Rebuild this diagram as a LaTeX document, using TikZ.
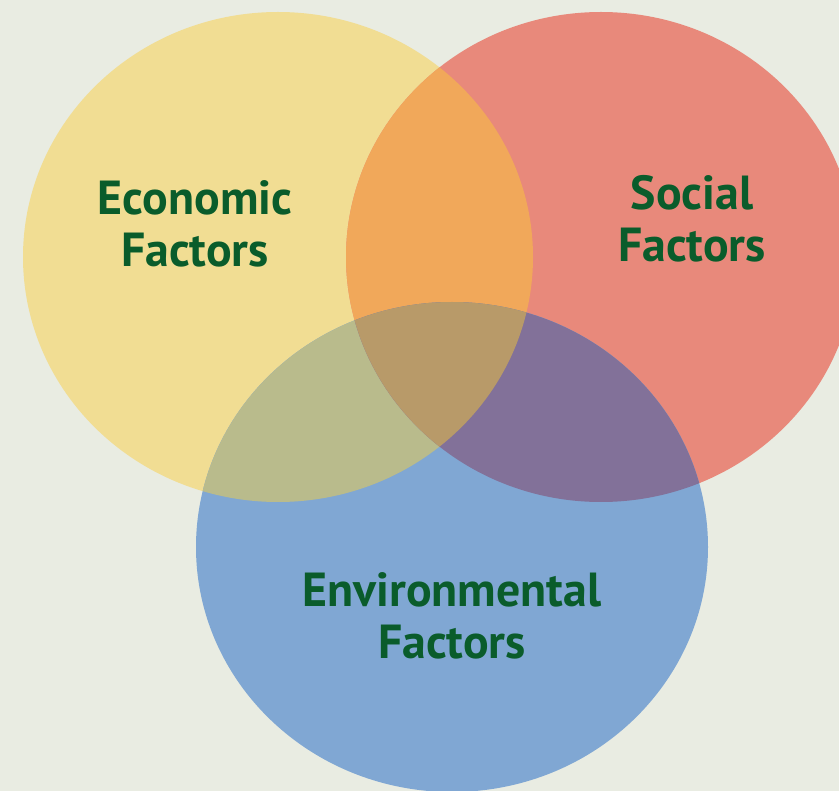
\documentclass[tikz,border=0pt]{standalone}
\usepackage{fontspec}
\setmainfont{PT Sans}
\usepackage{tikz}
\definecolor{bgcol}{HTML}{E9ECE2}
\definecolor{econcol}{HTML}{F1DD93}
\definecolor{socialcol}{HTML}{E8897B}
\definecolor{envcol}{HTML}{80A7D3}
\definecolor{econsocial}{HTML}{F1A85A}
\definecolor{econenv}{HTML}{B9BB8C}
\definecolor{socialenv}{HTML}{827199}
\definecolor{allcol}{HTML}{B89A69}
\definecolor{labelcol}{HTML}{0A5C2B}
\def\econset{(278,257) ellipse [x radius=255, y radius=245]}
\def\socialset{(601,257) ellipse [x radius=255, y radius=245]}
\def\envset{(452,547) ellipse [x radius=256, y radius=245]}

\begin{document}
\begin{tikzpicture}
                [
                x=0.01cm, y=-0.01cm,
                setlabel/.style={text=labelcol,align=center,inner sep=0pt,
                  font=\bfseries\fontsize{13.6}{14.9}\selectfont}
                ]
            \useasboundingbox (0,0) rectangle (839,791);
            \clip (0,0) rectangle (839,791);
            \fill[bgcol] (0,0) rectangle (839,791);
            % the three sets
            \fill[econcol] \econset;
            \fill[socialcol] \socialset;
            \fill[envcol] \envset;
            % overlaps
            \begin{scope}
              \clip \econset;
              \fill[econsocial] \socialset;
              \fill[econenv] \envset;
            \end{scope}
            \begin{scope}
              \clip \socialset;
              \fill[socialenv] \envset;
            \end{scope}
            \begin{scope}
              \clip \econset;
              \clip \socialset;
              \fill[allcol] \envset;
            \end{scope}
            % labels
            \node[setlabel] (econ) at (195,224) {Economic\\Factors};
            \node[setlabel] (social) at (692,219) {Social\\Factors};
            \node[setlabel] (env) at (452,616) {Environmental\\Factors};
            \end{tikzpicture}
\end{document}
